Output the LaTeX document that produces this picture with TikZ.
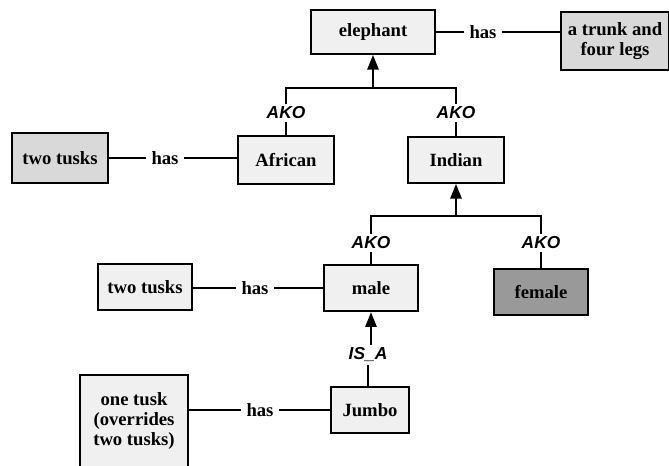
\documentclass[tikz,border=0pt]{standalone}
\usepackage{fontspec}
\setmainfont{Liberation Serif}
\setsansfont{Liberation Sans}
\usepackage{tikz}
\usetikzlibrary{arrows.meta, positioning, calc}

\begin{document}
\begin{tikzpicture}[
        x=0.75pt, y=-0.75pt,
        box/.style={rectangle, draw, line width=1.4pt, fill=gray!12, inner sep=2pt,
            minimum width=72pt, minimum height=35pt, align=center,
            font=\fontsize{14}{15}\selectfont\bfseries},
        dark/.style={fill=gray!30},
        rel/.style={inner sep=4pt, font=\fontsize{14}{15}\selectfont\bfseries},
        kind/.style={inner sep=2pt, font=\fontsize{13}{14}\selectfont\sffamily\bfseries\itshape},
        link/.style={line width=1.1pt},
        arrow/.style={-{Triangle[length=11pt, width=8.5pt]}, line width=1.3pt},
        >=stealth
    ]
    \useasboundingbox (0,0) rectangle (669,466);

    % top level
    \node (elephant) [box, minimum width=93pt, minimum height=33pt] at (373,32) {elephant};
    \node (trunk) [box, dark, minimum width=81pt, minimum height=43.5pt] at (615,41) {a trunk and\\four legs};
    \node (has1) [rel] at (483,32) {has};

    % second level
    \node (african) [box, minimum height=36pt] at (286,160) {African};
    \node (indian) [box, minimum height=34.5pt] at (456,160) {Indian};
    \node (tusksA) [box, dark, minimum height=37.5pt] at (60,158) {two tusks};
    \node (has2) [rel] at (165,158) {has};
    \node (ako1) [kind] at (286,113) {AKO};
    \node (ako2) [kind] at (456,113) {AKO};
    \coordinate (bar1) at (373,88);

    % third level
    \node (male) [box, minimum width=71pt] at (371,288) {male};
    \node (female) [box, minimum width=71pt, fill=gray!80] at (541,292) {female};
    \node (tusksB) [box, minimum width=71pt, minimum height=34.5pt] at (145,287) {two tusks};
    \node (has3) [rel] at (255,288) {has};
    \node (ako3) [kind] at (371,243) {AKO};
    \node (ako4) [kind] at (541,243) {AKO};
    \coordinate (bar2) at (456,216);

    % instance
    \node (jumbo) [box, minimum width=59pt, minimum height=34.5pt] at (370,410) {Jumbo};
    \node (onetusk) [box, minimum width=81pt, minimum height=69pt] at (134,421) {one tusk\\(overrides\\two tusks)};
    \node (has4) [rel] at (260,410) {has};
    \node (isa) [kind] at (368,355) {IS\_A};

    % has links
    \draw[link] (elephant) -- (has1) -- (has1 -| trunk.west);
    \draw[link] (tusksA.east |- has2) -- (has2) -- (has2 -| african.west);
    \draw[link] (tusksB.east |- has3) -- (has3) -- (has3 -| male.west);
    \draw[link] (onetusk.east |- has4) -- (has4) -- (jumbo);

    % AKO links
    \draw[link] (african) -- (ako1);
    \draw[link] (indian) -- (ako2);
    \draw[link] (ako1.north) |- (bar1) -| (ako2.north);
    \draw[arrow] (bar1) -- (elephant.south);
    \draw[link] (male) -- (ako3);
    \draw[link] (female) -- (ako4);
    \draw[link] (ako3.north) |- (bar2) -| (ako4.north);
    \draw[arrow] (bar2) -- (indian.south);

    % IS_A link
    \draw[link] (jumbo.north -| isa) -- (isa);
    \draw[arrow] (isa.north -| male) -- (male.south);

\end{tikzpicture}
\end{document}
